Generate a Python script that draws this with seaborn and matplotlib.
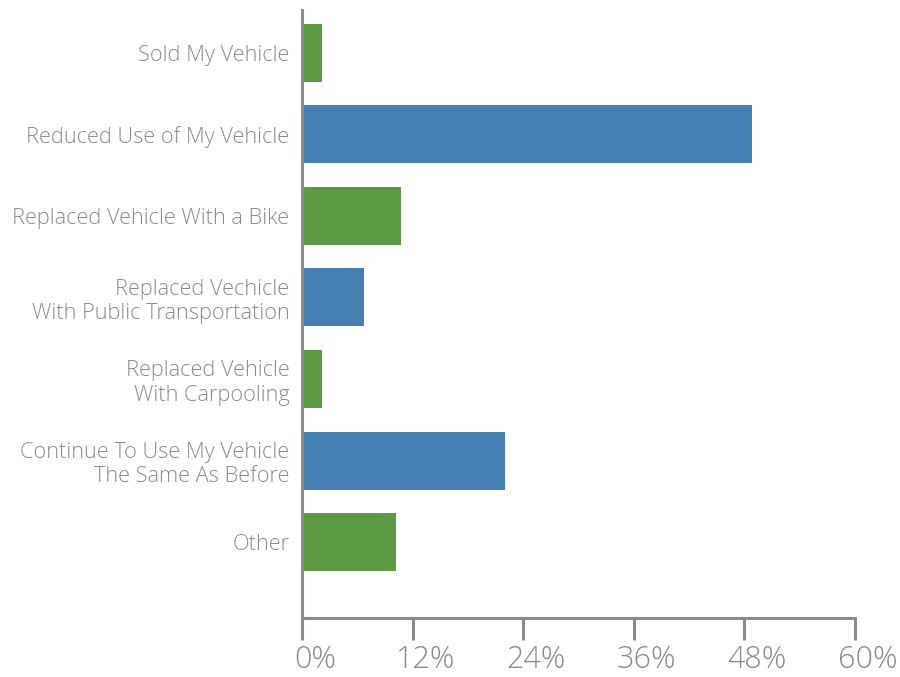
import matplotlib
matplotlib.use("Agg")
import matplotlib.pyplot as plt
import matplotlib.transforms as mtransforms
import seaborn as sns
import pandas as pd
from matplotlib.ticker import FuncFormatter

categories = [
    "Sold My Vehicle",
    "Reduced Use of My Vehicle",
    "Replaced Vehicle With a Bike",
    "Replaced Vechicle\nWith Public Transportation",
    "Replaced Vehicle\nWith Carpooling",
    "Continue To Use My Vehicle\nThe Same As Before",
    "Other",
]
values = [2.2, 48.9, 10.7, 6.7, 2.2, 22.0, 10.2]
bar_colors = ["#5c9a44", "#4680b2", "#5c9a44", "#4680b2", "#5c9a44", "#4680b2", "#5c9a44"]
x_ticks = [0, 12, 24, 36, 48, 60]

sns.set_style("white")
plt.rcParams["font.family"] = ["Open Sans", "DejaVu Sans"]

df = pd.DataFrame({"category": categories, "value": values})

fig = plt.figure(figsize=(9, 6.77), dpi=100)
ax = fig.add_axes([0.3356, 0.0871, 0.614, 0.8979])

sns.barplot(data=df, x="value", y="category", hue="category",
            palette=bar_colors, legend=False, width=0.71, ax=ax,
            saturation=1, edgecolor="none", orient="h")

gray = "#8a8a8a"
ax.set_xlim(0, 60)
ax.set_ylim(6.93, -0.52)
ax.set_xticks(x_ticks)
ax.xaxis.set_major_formatter(FuncFormatter(lambda v, p: f"{v:.0f}%"))
ax.set_xlabel("")
ax.set_ylabel("")
for s in ["top", "right"]:
    ax.spines[s].set_visible(False)
for s in ["left", "bottom"]:
    ax.spines[s].set_color(gray)
    ax.spines[s].set_linewidth(2.2)
ax.tick_params(axis="x", bottom=True, length=16, width=2.2, color=gray, labelcolor=gray,
               labelsize=22, pad=3, direction="out")
ax.tick_params(axis="y", left=False, length=0, labelcolor=gray, labelsize=15.7, pad=9)
offset = mtransforms.ScaledTranslation(13 / 100, 0, fig.dpi_scale_trans)
for lab in ax.get_xticklabels():
    lab.set_fontweight("light")
    lab.set_transform(lab.get_transform() + offset)
for lab in ax.get_yticklabels():
    lab.set_fontweight("light")
ax.grid(False)

fig.savefig("out.png", dpi=100)
